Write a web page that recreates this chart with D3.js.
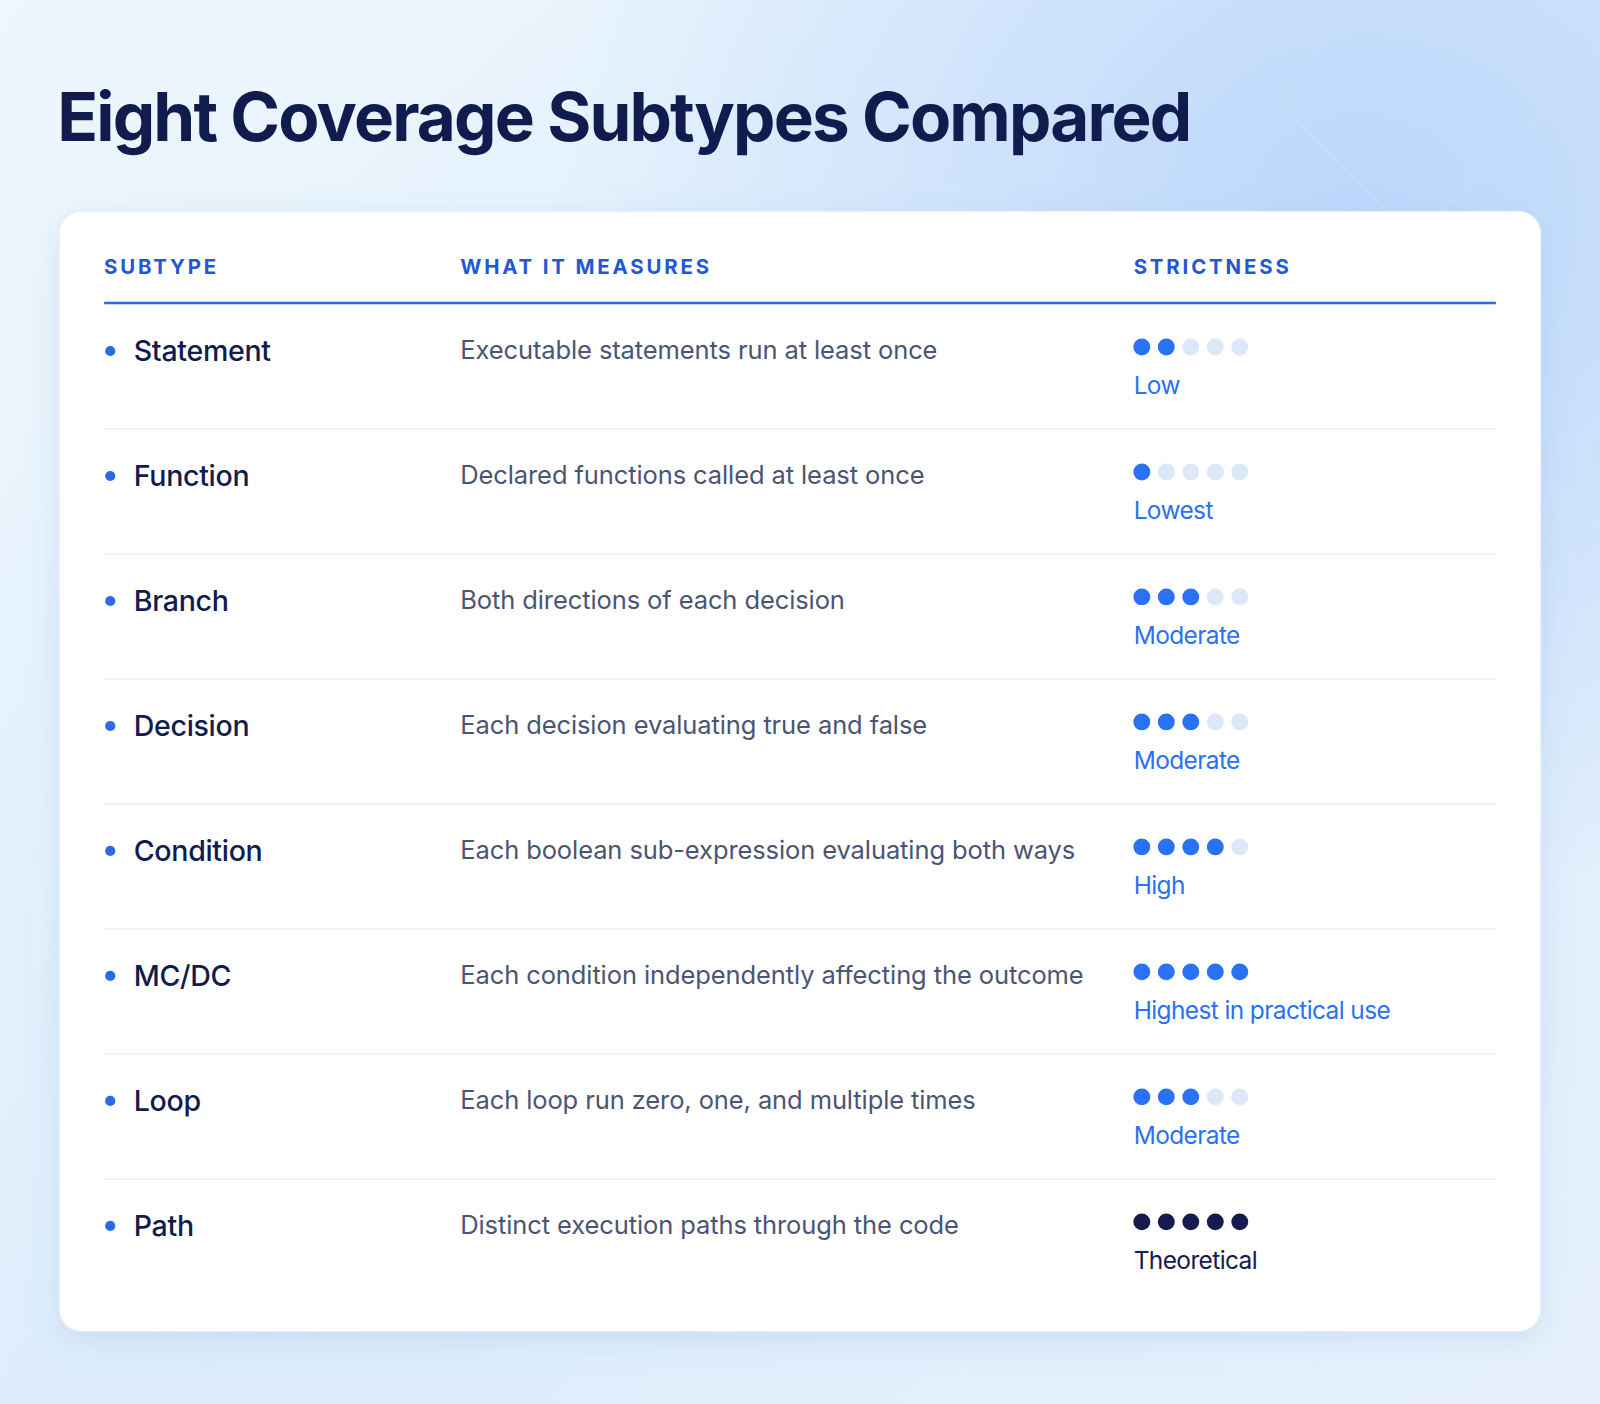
<!DOCTYPE html>
<html><head><meta charset="utf-8">
<script src="https://cdn.jsdelivr.net/npm/d3@7"></script>
<style>body{margin:0;overflow:hidden}svg{display:block;font-family:Inter,"Noto Sans",sans-serif}</style>
</head><body>
<script>
var subtypes = ["Statement", "Function", "Branch", "Decision", "Condition", "MC/DC", "Loop", "Path"];
var measures = ["Executable statements run at least once", "Declared functions called at least once",
  "Both directions of each decision", "Each decision evaluating true and false",
  "Each boolean sub-expression evaluating both ways", "Each condition independently affecting the outcome",
  "Each loop run zero, one, and multiple times", "Distinct execution paths through the code"];
var strictness = [2, 1, 3, 3, 4, 5, 3, 5];
var strictLabels = ["Low", "Lowest", "Moderate", "Moderate", "High", "Highest in practical use", "Moderate", "Theoretical"];
var headers = ["SUBTYPE", "WHAT IT MEASURES", "STRICTNESS"];

var svg = d3.select("body").append("svg")
  .attr("width", 1600).attr("height", 1404)
  .attr("viewBox", "0 0 1568 1376");
var defs = svg.append("defs");
var bg = defs.append("linearGradient").attr("id", "bg").attr("x1", 0).attr("y1", 0).attr("x2", 1).attr("y2", 1);
bg.append("stop").attr("offset", "0%").attr("stop-color", "#eef7fd");
bg.append("stop").attr("offset", "55%").attr("stop-color", "#dcecfb");
bg.append("stop").attr("offset", "100%").attr("stop-color", "#e6f1fc");
var glow = defs.append("radialGradient").attr("id", "glow").attr("cx", 0.85).attr("cy", 0.15).attr("r", 0.5);
glow.append("stop").attr("offset", "0%").attr("stop-color", "#bcd7fb");
glow.append("stop").attr("offset", "100%").attr("stop-color", "#bcd7fb").attr("stop-opacity", 0);
var sh = defs.append("filter").attr("id", "sh").attr("x", -0.1).attr("y", -0.1).attr("width", 1.2).attr("height", 1.2);
sh.append("feDropShadow").attr("dx", 0).attr("dy", 8).attr("stdDeviation", 14).attr("flood-color", "#6a8fc4").attr("flood-opacity", 0.18);

svg.append("rect").attr("width", 1568).attr("height", 1376).attr("fill", "url(#bg)");
svg.append("rect").attr("width", 1568).attr("height", 1376).attr("fill", "url(#glow)");
svg.append("rect").attr("x", 1280).attr("y", -10).attr("width", 200).attr("height", 200).attr("rx", 24)
  .attr("transform", "rotate(45 1380 100)").attr("fill", "none").attr("stroke", "#c9def8").attr("stroke-width", 1.5);

svg.append("text").attr("x", 56).attr("y", 138).text("Eight Coverage Subtypes Compared")
  .attr("font-size", 66).attr("font-weight", 700).attr("letter-spacing", -1.8).attr("fill", "#111c4e");

svg.append("rect").attr("x", 58).attr("y", 207).attr("width", 1452).attr("height", 1098).attr("rx", 22)
  .attr("fill", "#fff").attr("stroke", "#e4edf8").attr("filter", "url(#sh)");

var colX = [102, 451, 1111];
svg.selectAll("text.hd").data(headers).enter().append("text").attr("class", "hd")
  .attr("x", function (d, i) { return colX[i]; }).attr("y", 269).text(function (d) { return d; })
  .attr("font-size", 20).attr("font-weight", 700).attr("letter-spacing", 2.8).attr("fill", "#2258d6");
svg.append("line").attr("x1", 102).attr("x2", 1466).attr("y1", 297).attr("y2", 297)
  .attr("stroke", "#2a6ae8").attr("stroke-width", 2.5);

var y = d3.scaleBand().domain(d3.range(subtypes.length)).range([298, 1278]);
var dotX = d3.scaleLinear().domain([0, 4]).range([1119, 1215]);

var rows = svg.selectAll("g.row").data(subtypes).enter().append("g").attr("class", "row")
  .attr("transform", function (d, i) { return "translate(0," + y(i) + ")"; });
rows.filter(function (d, i) { return i > 0; }).append("line")
  .attr("x1", 102).attr("x2", 1466).attr("y1", 0).attr("y2", 0).attr("stroke", "#eaf1fb").attr("stroke-width", 1.5);
rows.append("circle").attr("cx", 108).attr("cy", 46).attr("r", 5).attr("fill", "#2a6ae8");
rows.append("text").attr("x", 131).attr("y", 56).text(function (d) { return d; })
  .attr("font-size", 28).attr("font-weight", 500).attr("letter-spacing", -0.3).attr("fill", "#111c4e");
rows.append("text").attr("x", 451).attr("y", 54).text(function (d, i) { return measures[i]; })
  .attr("font-size", 25).attr("letter-spacing", -0.1).attr("fill", "#4b5573");
rows.each(function (d, i) {
  var g = d3.select(this);
  var on = i === 7 ? "#141c4e" : "#2a72f5";
  g.selectAll("circle.dot").data(d3.range(5)).enter().append("circle").attr("class", "dot")
    .attr("cx", function (k) { return dotX(k); }).attr("cy", 42).attr("r", 8.3)
    .attr("fill", function (k) { return k < strictness[i] ? on : "#dbe8f8"; });
  g.append("text").attr("x", 1111).attr("y", 88).text(strictLabels[i])
    .attr("font-size", 24).attr("letter-spacing", -0.6).attr("fill", i === 7 ? "#141c4e" : "#2a72f5");
});
</script>
</body></html>
